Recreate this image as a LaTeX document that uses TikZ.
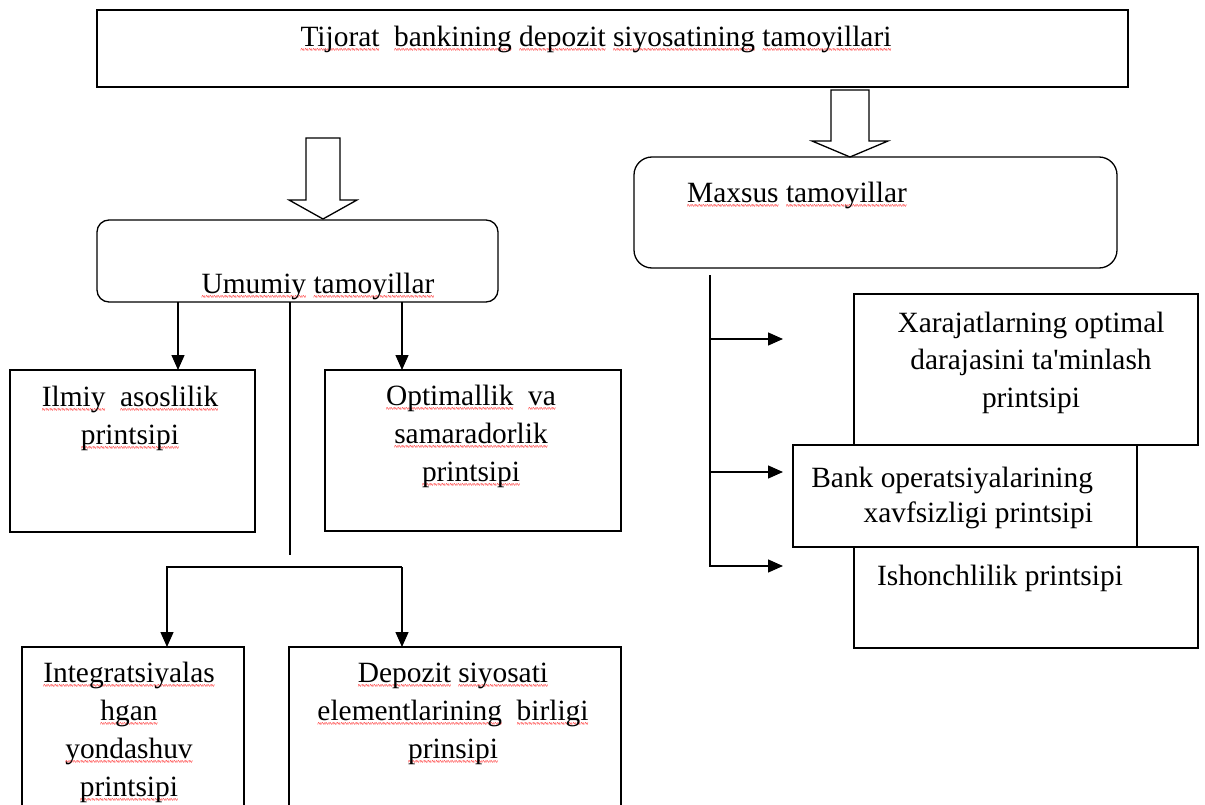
\documentclass[tikz,border=0pt]{standalone}
\usepackage{fontspec}
\setmainfont{Liberation Serif}
\usetikzlibrary{arrows.meta}
\newcommand\wavepiece{\hbox to 3.8pt{\hss{\scalebox{0.5}[1]{\fontsize{14}{14}\selectfont\color{red}\char"7E}}\hss}}
\newcommand\sq[1]{\setbox0\hbox{#1}\rlap{\lower8pt\hbox to \wd0{\xleaders\wavepiece\hfil}}\box0\relax}
\tikzset{
  box/.style={draw, line width=1.3pt, fill=white, inner sep=0pt, outer sep=0pt},
  rbox/.style={box, rounded corners=#1},
  txt/.style={font=\fontsize{29.4}{38}\selectfont, inner sep=0pt, outer sep=0pt, align=center, anchor=base},
  rtxt/.style={font=\fontsize{29.4}{37.5}\selectfont, inner sep=0pt, outer sep=0pt, align=center, anchor=base},
  line/.style={line width=1.3pt},
  arr/.style={line width=1.3pt, -{Triangle[length=15pt,width=13pt]}},
  hollow/.style={line width=1.3pt, fill=white, line join=miter}
}
\begin{document}
\begin{tikzpicture}[x=1pt,y=-1pt]
\useasboundingbox (0,0) rectangle (1205,805);
% boxes
\node[box, minimum width=1031pt, minimum height=77pt] (top) at (612.5,48.5) {};
\node[rbox=12pt, minimum width=401pt, minimum height=82pt] (umu) at (297.5,261) {};
\node[rbox=18pt, minimum width=483pt, minimum height=111pt] (max) at (875.5,212.5) {};
\node[box, minimum width=245pt, minimum height=162pt] (ilmiy) at (132.5,451) {};
\node[box, minimum width=296pt, minimum height=161pt] (opt) at (473,450.5) {};
\node[box, minimum width=222pt, minimum height=193pt] (integ) at (133,743.5) {};
\node[box, minimum width=332pt, minimum height=193pt] (dep) at (455,743.5) {};
\node[box, minimum width=344pt, minimum height=151pt] (xar) at (1026,369.5) {};
\node[box, minimum width=344pt, minimum height=101pt] (ish) at (1026,597.5) {};
\node[box, minimum width=344pt, minimum height=102pt] (bank) at (965,496) {};
% texts (base anchor = baseline of the last line)
\node[txt] (ttop) at (596,47) {\sq{Tijorat}\ \ \sq{bankining} \sq{depozit} \sq{siyosatining} \sq{tamoyillari}};
\node[txt] (tmax) at (797,203) {\sq{Maxsus} \sq{tamoyillar}};
\node[txt] (tumu) at (318,293) {\sq{Umumiy} \sq{tamoyillar}};
\node[txt] (tilm) at (130,444) {\sq{Ilmiy}\ \ \sq{asoslilik}\\\sq{printsipi}};
\node[txt] (topt) at (471,481) {\sq{Optimallik}\ \ \sq{va}\\\sq{samaradorlik}\\\sq{printsipi}};
\node[txt] (tint) at (129,796) {\sq{Integratsiyalas}\\\sq{hgan}\\\sq{yondashuv}\\\sq{printsipi}};
\node[txt] (tdep) at (453,758) {\sq{Depozit} \sq{siyosati}\\\sq{elementlarining}\ \ \sq{birligi}\\\sq{prinsipi}};
\node[rtxt] (txar) at (1031,407) {Xarajatlarning optimal\\darajasini ta\textquotesingle minlash\\printsipi};
\node[rtxt, font=\fontsize{29.4}{35}\selectfont, align=right, anchor=base east] (tbank) at (1093,522) {Bank operatsiyalarining\\xavfsizligi printsipi};
\node[rtxt] (tish) at (1000,585) {Ishonchlilik printsipi};
% hollow arrows
\draw[hollow] (306,138) -- (340,138) -- (340,200) -- (357,200) -- (323,219) -- (289,200) -- (306,200) -- cycle;
\draw[hollow] (831,90) -- (869,90) -- (869,141) -- (888,141) -- (850,157) -- (812,141) -- (831,141) -- cycle;
% left connectors
\coordinate (cL) at (178,0);
\coordinate (cR) at (402,0);
\coordinate (cM) at (290,0);
\coordinate (j) at (290,555);
\coordinate (jl) at (167,567);
\coordinate (jr) at (402,567);
\draw[arr] (umu.south -| cL) -- (ilmiy.north -| cL);
\draw[arr] (umu.south -| cR) -- (opt.north -| cR);
\draw[line] (umu.south -| cM) -- (j);
\draw[arr] (jr) -- (jl) -- (integ.north -| jl);
\draw[arr] (jr) -- (dep.north -| jr);
% right connectors
\coordinate (rt) at (710,275);
\coordinate (r1) at (710,339);
\coordinate (r2) at (710,472);
\coordinate (r3) at (710,566);
\coordinate (e1) at (783,339);
\coordinate (e2) at (783,472);
\coordinate (e3) at (783,566);
\draw[arr] (rt) -- (r3) -- (e3);
\draw[arr] (r1) -- (e1);
\draw[arr] (r2) -- (e2);
\end{tikzpicture}
\end{document}
